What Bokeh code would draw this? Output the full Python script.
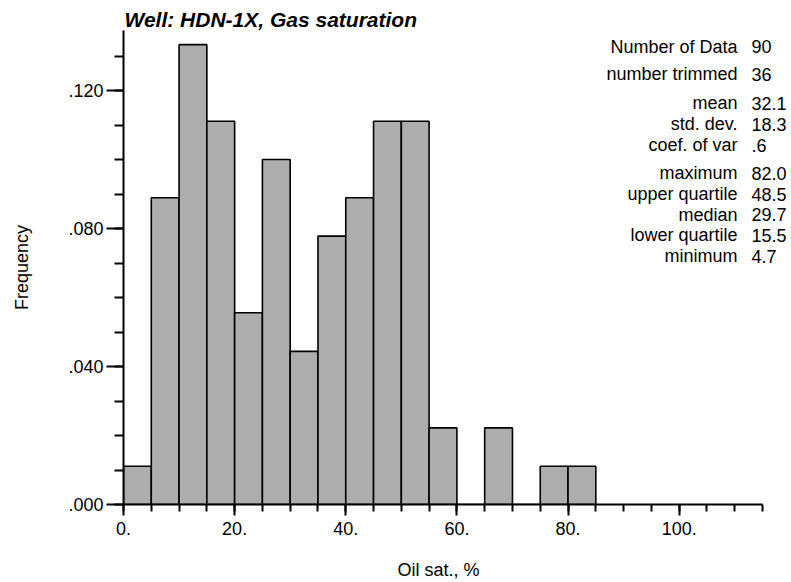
from bokeh.plotting import figure
from bokeh.models import FixedTicker, CustomJSTickFormatter, Label, Range1d, Title
from bokeh.embed import file_html
from bokeh.resources import INLINE

# ---- data ----
bin_left = [0, 5, 10, 15, 20, 25, 30, 35, 40, 45, 50, 55, 60, 65, 70, 75, 80]
bin_right = [5, 10, 15, 20, 25, 30, 35, 40, 45, 50, 55, 60, 65, 70, 75, 80, 85]
frequency = [0.0111, 0.0889, 0.1333, 0.1111, 0.0556, 0.1000, 0.0444, 0.0778,
             0.0889, 0.1111, 0.1111, 0.0222, 0.0, 0.0222, 0.0, 0.0111, 0.0111]
x_major_ticks = [0, 20, 40, 60, 80, 100]
y_major_ticks = [0.0, 0.04, 0.08, 0.12]
stat_names = ["Number of Data", "number trimmed", "mean", "std. dev.", "coef. of var",
              "maximum", "upper quartile", "median", "lower quartile", "minimum"]
stat_values = ["90", "36", "32.1", "18.3", ".6", "82.0", "48.5", "29.7", "15.5", "4.7"]
title_text = "Well: HDN-1X, Gas saturation"
x_label = "Oil sat., %"
y_label = "Frequency"

FONT = "Liberation Sans"
Y_END = 0.1374
X_AXIS_END = 115
frame_left, frame_top, frame_h = 123, 30, 474
frame_w = 791 - frame_left
px_per_unit = 639 / X_AXIS_END
X_END = frame_w / px_per_unit

p = figure(width=791, height=582, output_backend="svg", toolbar_location=None,
           x_range=Range1d(0, X_END), y_range=Range1d(0, Y_END),
           min_border_left=frame_left, min_border_right=0, min_border_top=frame_top,
           min_border_bottom=78)
p.outline_line_color = None
p.xgrid.visible = False
p.ygrid.visible = False
p.background_fill_color = "white"
p.border_fill_color = "white"

p.quad(left=bin_left, right=bin_right, top=frequency, bottom=0,
       fill_color="#adadad", line_color="black", line_width=1.6)

p.title.text = title_text
p.title.text_font = FONT
p.title.text_font_size = "21px"
p.title.text_font_style = "bold italic"
p.title.text_color = "black"
p.title.align = "left"
p.title.standoff = 0
p.title.offset = 1

# x axis
xa = p.xaxis[0]
xa.bounds = (0, X_AXIS_END)
xa.ticker = FixedTicker(ticks=x_major_ticks, minor_ticks=list(range(0, X_AXIS_END + 1, 5)))
xa.formatter = CustomJSTickFormatter(code="return tick.toFixed(0) + '.';")
xa.axis_line_width = 2
xa.major_tick_line_width = 2
xa.minor_tick_line_width = 2
xa.major_tick_out = 11
xa.major_tick_in = 0
xa.minor_tick_out = 7
xa.minor_tick_in = 0
xa.major_label_text_font = FONT
xa.major_label_text_font_size = "18px"
xa.major_label_text_color = "black"
xa.major_label_standoff = 6

# x axis label, centred under the drawn axis (0..115), not under the wider frame;
# a leading empty line pushes it down to the bottom margin
xlab = Title(text="\n" + x_label, align="left", offset=397 - frame_left, standoff=0,
             vertical_align="bottom",
             text_font=FONT, text_font_size="18px", text_font_style="normal",
             text_color="black")
p.add_layout(xlab, "below")

# y axis
ya = p.yaxis[0]
ya.ticker = FixedTicker(ticks=y_major_ticks, minor_ticks=[i / 100 for i in range(0, 14)])
ya.formatter = CustomJSTickFormatter(code="return tick.toFixed(3).replace(/^0/, '');")
ya.axis_line_width = 2
ya.major_tick_line_width = 2
ya.minor_tick_line_width = 2
ya.major_tick_out = 17
ya.major_tick_in = 0
ya.minor_tick_out = 9
ya.minor_tick_in = 0
ya.major_label_text_font = FONT
ya.major_label_text_font_size = "18px"
ya.major_label_text_color = "black"
ya.major_label_standoff = 3
ya.axis_label = y_label
ya.axis_label_text_font = FONT
ya.axis_label_text_font_size = "18px"
ya.axis_label_text_font_style = "normal"
ya.axis_label_text_color = "black"
ya.axis_label_standoff = 33

# statistics block (annotation positions given in pixels from figure top-left)
def py_to_y(py):
    return (frame_top + frame_h - py) / frame_h * Y_END

def px_to_x(px):
    return (px - frame_left) / px_per_unit

baselines = [46, 73.5, 102.5, 123.5, 144.5, 172.5, 193.5, 214, 234.5, 255.5]
for name, val, b in zip(stat_names, stat_values, baselines):
    p.add_layout(Label(x=px_to_x(737), y=py_to_y(b), text=name, text_align="right",
                       text_baseline="alphabetic", text_font=FONT, text_font_size="18px",
                       text_color="black"))
    p.add_layout(Label(x=px_to_x(751), y=py_to_y(b), text=val, text_align="left",
                       text_baseline="alphabetic", text_font=FONT, text_font_size="18px",
                       text_color="black"))

open("out.html", "w").write(file_html(p, INLINE))
